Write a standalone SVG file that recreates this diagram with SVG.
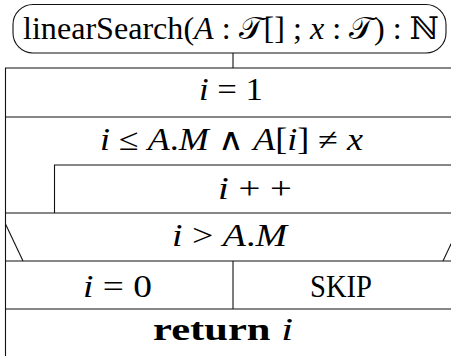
<svg xmlns="http://www.w3.org/2000/svg" width="451" height="356" viewBox="0 0 451 356" font-family="'Liberation Serif', 'DejaVu Serif', serif">
<style>
  .ln { stroke: #111; stroke-width: 1.1; fill: none; }
  .t { font-family: 'Liberation Serif', 'DejaVu Serif', serif; font-size: 31px; fill: #000; text-anchor: middle; }
  .it { font-style: italic; }
  .bf { font-weight: bold; }
</style>
<rect width="451" height="356" fill="#fff"/>
<g id="start">
  <rect class="ln" x="13" y="4.5" width="433" height="48.5" rx="20" ry="20"/>
  <text class="t" x="231" y="39" textLength="416" lengthAdjust="spacingAndGlyphs">linearSearch(<tspan class="it">A</tspan> : 𝒯[] ; <tspan class="it">x</tspan> : 𝒯) : ℕ</text>
</g>
<g id="connectors">
  <line class="ln" x1="233" y1="53" x2="233" y2="68"/>
</g>
<g id="frame">
  <line class="ln" x1="5.5" y1="68" x2="5.5" y2="356"/>
</g>
<g id="init">
  <line class="ln" x1="5" y1="68" x2="451" y2="68"/>
  <text class="t" x="231" y="100" textLength="64" lengthAdjust="spacingAndGlyphs"><tspan class="it">i</tspan> = 1</text>
</g>
<g id="loop">
  <line class="ln" x1="5" y1="117" x2="451" y2="117"/>
  <text class="t" x="231.5" y="150" textLength="263" lengthAdjust="spacingAndGlyphs"><tspan class="it">i</tspan> ≤ <tspan class="it">A</tspan>.<tspan class="it">M</tspan> ∧ <tspan class="it">A</tspan>[<tspan class="it">i</tspan>] ≠ <tspan class="it">x</tspan></text>
</g>
<g id="body">
  <line class="ln" x1="54" y1="165" x2="451" y2="165"/>
  <line class="ln" x1="54.5" y1="165" x2="54.5" y2="213"/>
  <text class="t" x="255" y="199" textLength="74" lengthAdjust="spacingAndGlyphs"><tspan class="it">i</tspan> + +</text>
</g>
<g id="cond">
  <line class="ln" x1="5" y1="213" x2="451" y2="213"/>
  <line class="ln" x1="5.5" y1="224" x2="23" y2="261"/>
  <line class="ln" x1="443" y1="261" x2="451.5" y2="243"/>
  <text class="t" x="229.5" y="246" textLength="115" lengthAdjust="spacingAndGlyphs"><tspan class="it">i</tspan> &gt; <tspan class="it">A</tspan>.<tspan class="it">M</tspan></text>
</g>
<g id="then">
  <line class="ln" x1="5" y1="261" x2="451" y2="261"/>
  <line class="ln" x1="233" y1="261" x2="233" y2="309"/>
  <text class="t" x="117.5" y="297" textLength="69" lengthAdjust="spacingAndGlyphs"><tspan class="it">i</tspan> = 0</text>
</g>
<g id="else">
  <text class="t" x="341" y="297" textLength="62" lengthAdjust="spacingAndGlyphs">SKIP</text>
</g>
<g id="ret">
  <line class="ln" x1="5" y1="309" x2="451" y2="309"/>
  <text class="t" x="223" y="340" textLength="140" lengthAdjust="spacingAndGlyphs"><tspan class="bf">return</tspan> <tspan class="it">i</tspan></text>
</g>
</svg>
